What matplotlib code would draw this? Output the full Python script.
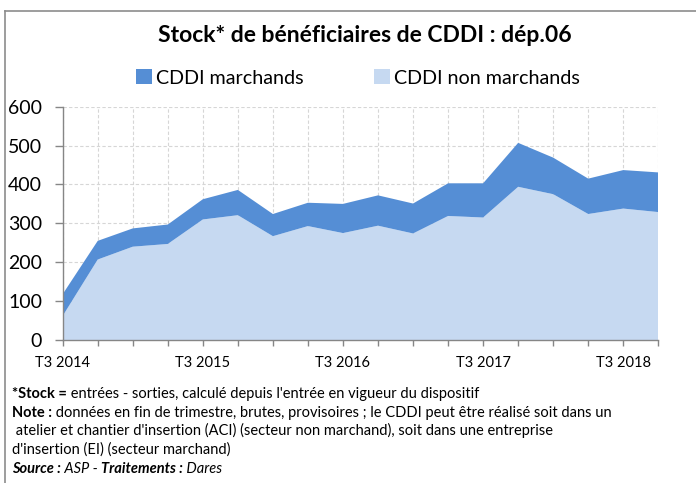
import matplotlib
matplotlib.use("Agg")
import matplotlib.pyplot as plt
from matplotlib.patches import Patch
from matplotlib.lines import Line2D
import numpy as np

plt.rcParams['font.family'] = ['Lato', 'DejaVu Sans']

quarters = ["T3 2014", "T4 2014", "T1 2015", "T2 2015", "T3 2015", "T4 2015",
            "T1 2016", "T2 2016", "T3 2016", "T4 2016", "T1 2017", "T2 2017",
            "T3 2017", "T4 2017", "T1 2018", "T2 2018", "T3 2018", "T4 2018"]
non_marchands = [62, 207, 240, 247, 310, 321, 267, 293, 275, 294, 274, 319,
                 315, 394, 375, 324, 338, 329]
marchands = [56, 48, 47, 50, 52, 65, 57, 60, 75, 78, 77, 84,
             88, 113, 94, 91, 99, 102]
series_names = ["CDDI marchands", "CDDI non marchands"]

c_march = "#558ED5"
c_nonm = "#C6D9F1"
gray = "#868686"

fig = plt.figure(figsize=(6.96, 4.83), dpi=100)
W, H = 696, 483
ax = fig.add_axes([62.7 / W, 1 - 340 / H, (658.3 - 62.7) / W, (340 - 106.7) / H])

x = np.arange(len(quarters))
ax.stackplot(x, non_marchands, marchands, colors=[c_nonm, c_march],
             linewidth=0, zorder=2)

ax.set_xlim(0, len(quarters) - 1)
ax.set_ylim(0, 600)
ax.set_yticks(range(0, 601, 100))
ax.set_xticks(x)
ax.set_xticklabels([q if i % 4 == 0 else "" for i, q in enumerate(quarters)],
                   fontsize=10.5)
ax.tick_params(axis='y', labelsize=14, length=5.8, color=gray, pad=9, width=1)
ax.tick_params(axis='x', length=4.3, color=gray, pad=7, width=1)
ax.set_axisbelow(True)
ax.grid(True, color="#D6D6D6", linestyle=(0, (3, 2)), linewidth=0.8, zorder=0)
for s in ['top', 'right']:
    ax.spines[s].set_visible(False)
for s in ['left', 'bottom']:
    ax.spines[s].set_color(gray)
    ax.spines[s].set_linewidth(1)
    ax.spines[s].set_zorder(3)

# Title
fig.text(365 / W, 1 - 36 / H, "Stock* de bénéficiaires de CDDI : dép.06",
         ha='center', va='center', fontsize=16.5, fontweight='bold')

# Legend
handles = [Patch(facecolor=c_march, edgecolor='none'),
           Patch(facecolor=c_nonm, edgecolor='none')]
fig.legend(handles, series_names, loc='center', bbox_to_anchor=(358 / W, 1 - 78 / H),
           ncol=2, frameon=False, fontsize=14.2, handlelength=0.8, handleheight=0.8,
           handletextpad=0.2, columnspacing=3.6, borderpad=0, borderaxespad=0)

# Border lines
fig.add_artist(Line2D([5 / W, 1], [1 - 11 / H, 1 - 11 / H], color="#8C8C8C", linewidth=1.2))
fig.add_artist(Line2D([5 / W, 5 / W], [0, 1 - 11 / H], color="#8C8C8C", linewidth=1.2))

# Footnotes
fs = 10.5

def chain(pieces, x0, ybottom):
    prev = None
    for txt, weight, style in pieces:
        if prev is None:
            prev = fig.text(x0 / W, 1 - ybottom / H, txt, fontsize=fs, fontweight=weight,
                            fontstyle=style, ha='left', va='bottom')
        else:
            prev = ax.annotate(txt, xy=(1, 0), xycoords=prev, fontsize=fs,
                               fontweight=weight, fontstyle=style, ha='left', va='bottom',
                               annotation_clip=False)

line_y = [401, 420, 438, 457, 476]
chain([("*Stock =", 'bold', 'normal'),
       (" entrées - sorties, calculé depuis l'entrée en vigueur du dispositif", 'normal', 'normal')],
      12, line_y[0])
chain([("Note :", 'bold', 'normal'),
       (" données en fin de trimestre, brutes, provisoires ; le CDDI peut être réalisé soit dans un", 'normal', 'normal')],
      12, line_y[1])
fig.text(12 / W, 1 - line_y[2] / H,
         " atelier et chantier d'insertion (ACI) (secteur non marchand), soit dans une entreprise",
         fontsize=fs, ha='left', va='bottom')
fig.text(12 / W, 1 - line_y[3] / H, "d'insertion (EI) (secteur marchand)",
         fontsize=fs, ha='left', va='bottom')
chain([("Source :", 'bold', 'italic'), (" ASP - ", 'normal', 'italic'),
       ("Traitements :", 'bold', 'italic'), (" Dares", 'normal', 'italic')],
      12, line_y[4])

fig.savefig("out.png", dpi=100)
